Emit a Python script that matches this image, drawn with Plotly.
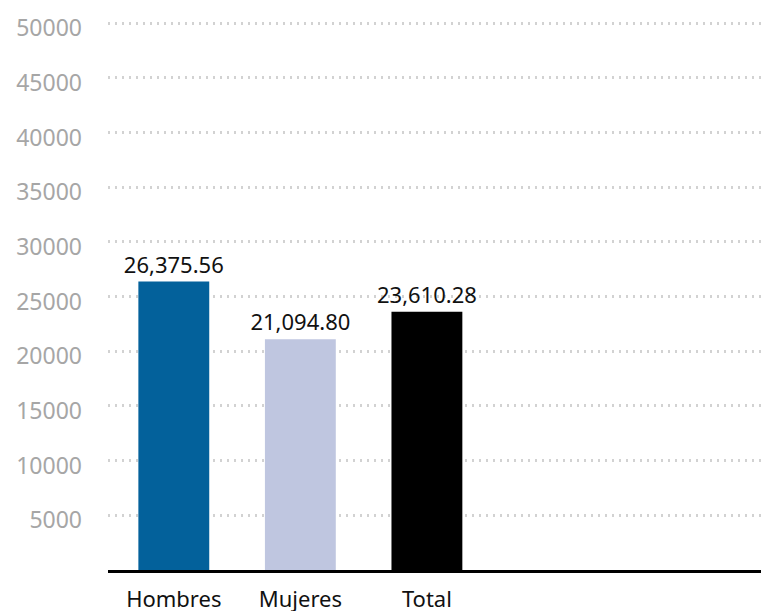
import plotly.graph_objects as go

categories = ["Hombres", "Mujeres", "Total"]
values = [26375.56, 21094.80, 23610.28]
colors = ["#03619b", "#bfc6e0", "#000000"]
y_ticks = [5000, 10000, 15000, 20000, 25000, 30000, 35000, 40000, 45000, 50000]

fig = go.Figure(go.Bar(
    x=categories, y=values,
    marker=dict(color=colors, line=dict(width=0)),
    width=0.56,
    texttemplate="%{y:,.2f}",
    textposition="outside",
    constraintext="none",
    textfont=dict(size=22, color="#111111", family="Noto Sans"),
    cliponaxis=False,
))

fig.update_layout(
    width=761, height=611,
    margin=dict(l=108, r=0, t=21, b=41),
    paper_bgcolor="white", plot_bgcolor="white",
    showlegend=False,
    font=dict(family="Noto Sans"),
    xaxis=dict(
        type="category",
        range=[-0.52, 4.64],
        showline=True, linecolor="black", linewidth=3,
        showgrid=False, ticks="",
        tickfont=dict(size=22, color="#111111", family="Noto Sans"),
        ticklabelstandoff=8,
        automargin=False,
    ),
    yaxis=dict(
        range=[0, 50200],
        tickvals=y_ticks,
        ticktext=[str(v) for v in y_ticks],
        showgrid=True, gridcolor="#d2d2d2", griddash="2px,5px", gridwidth=2.5,
        zeroline=False, showline=False, ticks="",
        tickfont=dict(size=23, color="#a6a6a6", family="Noto Sans"),
        ticklabelstandoff=25,
        ticklabelshift=5,
        automargin=False,
    ),
)

fig.write_html(
    "out.html",
    config={"displayModeBar": False},
    post_script="document.body.style.margin='0';document.body.style.overflow='hidden';",
)
